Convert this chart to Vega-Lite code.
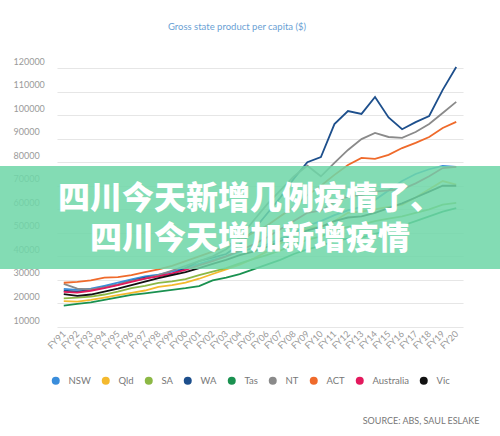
{
  "$schema": "https://vega.github.io/schema/vega-lite/v6.json",
  "width": 500,
  "height": 259,
  "autosize": {"type": "none"},
  "padding": {"left": 0, "right": 0, "top": 68, "bottom": 109},
  "background": "white",
  "config": {
    "view": {"stroke": null},
    "font": "Lato",
    "axisY": {
      "title": null,
      "tickCount": 11,
      "format": "d",
      "domain": false,
      "ticks": false,
      "tickSize": 0,
      "labelAlign": "left",
      "labelPadding": -13,
      "labelBaseline": "bottom",
      "labelOffset": -2,
      "labelFontSize": 9,
      "labelColor": "#9a9a9a",
      "labelBound": false,
      "labelFlush": false,
      "labelOverlap": false,
      "gridColor": "#e6e6e6",
      "gridWidth": 1.2
    }
  },
  "title": {
    "text": "Gross state product per capita ($)",
    "anchor": "middle",
    "frame": "group",
    "dx": -13,
    "offset": 26,
    "fontSize": 9.5,
    "fontWeight": "normal",
    "color": "#6a9fd4",
    "font": "Lato"
  },
  "layer": [
    {
      "data": {
        "values": [
          {"fy": "FY91", "NSW": 26200, "Qld": 21000, "SA": 22200, "WA": 25400, "Tas": 19100, "NT": 28300, "ACT": 28800, "Australia": 24900, "Vic": 24000},
          {"fy": "FY92", "NSW": 25800, "Qld": 20800, "SA": 22500, "WA": 25000, "Tas": 19800, "NT": 26300, "ACT": 29200, "Australia": 24600, "Vic": 23200},
          {"fy": "FY93", "NSW": 26300, "Qld": 21500, "SA": 22900, "WA": 25800, "Tas": 20500, "NT": 26000, "ACT": 29800, "Australia": 25400, "Vic": 23800},
          {"fy": "FY94", "NSW": 27500, "Qld": 22500, "SA": 23800, "WA": 26800, "Tas": 21500, "NT": 26800, "ACT": 31000, "Australia": 26500, "Vic": 25000},
          {"fy": "FY95", "NSW": 28800, "Qld": 23500, "SA": 25000, "WA": 28000, "Tas": 22600, "NT": 28000, "ACT": 31200, "Australia": 27800, "Vic": 26300},
          {"fy": "FY96", "NSW": 30200, "Qld": 24500, "SA": 26500, "WA": 29600, "Tas": 23600, "NT": 29500, "ACT": 32000, "Australia": 29200, "Vic": 27800},
          {"fy": "FY97", "NSW": 31500, "Qld": 25500, "SA": 27500, "WA": 31000, "Tas": 24300, "NT": 30500, "ACT": 33300, "Australia": 30500, "Vic": 29300},
          {"fy": "FY98", "NSW": 32200, "Qld": 27000, "SA": 28700, "WA": 31800, "Tas": 25000, "NT": 32000, "ACT": 34500, "Australia": 31500, "Vic": 30800},
          {"fy": "FY99", "NSW": 33500, "Qld": 27800, "SA": 29400, "WA": 32500, "Tas": 25800, "NT": 34000, "ACT": 36000, "Australia": 32800, "Vic": 32000},
          {"fy": "FY00", "NSW": 35000, "Qld": 28800, "SA": 30300, "WA": 35000, "Tas": 26500, "NT": 36000, "ACT": 38000, "Australia": 34300, "Vic": 33300},
          {"fy": "FY01", "NSW": 36800, "Qld": 30500, "SA": 32000, "WA": 38000, "Tas": 27400, "NT": 38000, "ACT": 40000, "Australia": 36200, "Vic": 35000},
          {"fy": "FY02", "NSW": 38500, "Qld": 32500, "SA": 33500, "WA": 39500, "Tas": 29800, "NT": 40000, "ACT": 42000, "Australia": 38000, "Vic": 36800},
          {"fy": "FY03", "NSW": 40000, "Qld": 34500, "SA": 35000, "WA": 41000, "Tas": 31000, "NT": 43000, "ACT": 44500, "Australia": 40000, "Vic": 38500},
          {"fy": "FY04", "NSW": 42000, "Qld": 36500, "SA": 37000, "WA": 45000, "Tas": 32500, "NT": 48000, "ACT": 47000, "Australia": 42500, "Vic": 40500},
          {"fy": "FY05", "NSW": 43500, "Qld": 39000, "SA": 38800, "WA": 51000, "Tas": 34500, "NT": 55000, "ACT": 50000, "Australia": 45000, "Vic": 42000},
          {"fy": "FY06", "NSW": 45000, "Qld": 42000, "SA": 40500, "WA": 58000, "Tas": 36500, "NT": 62000, "ACT": 53000, "Australia": 48000, "Vic": 44000},
          {"fy": "FY07", "NSW": 47500, "Qld": 45500, "SA": 42500, "WA": 65000, "Tas": 38500, "NT": 68000, "ACT": 57000, "Australia": 51500, "Vic": 46500},
          {"fy": "FY08", "NSW": 50000, "Qld": 49000, "SA": 45000, "WA": 73000, "Tas": 41000, "NT": 74000, "ACT": 61000, "Australia": 55000, "Vic": 49000},
          {"fy": "FY09", "NSW": 53000, "Qld": 52000, "SA": 47000, "WA": 80000, "Tas": 43000, "NT": 78500, "ACT": 66000, "Australia": 58500, "Vic": 51000},
          {"fy": "FY10", "NSW": 55000, "Qld": 52500, "SA": 48500, "WA": 82200, "Tas": 44500, "NT": 74000, "ACT": 70000, "Australia": 59500, "Vic": 52500},
          {"fy": "FY11", "NSW": 57500, "Qld": 55000, "SA": 51000, "WA": 96200, "Tas": 46500, "NT": 79700, "ACT": 74600, "Australia": 63000, "Vic": 55000},
          {"fy": "FY12", "NSW": 59500, "Qld": 58500, "SA": 52500, "WA": 101700, "Tas": 47500, "NT": 85200, "ACT": 78800, "Australia": 65500, "Vic": 56500},
          {"fy": "FY13", "NSW": 61000, "Qld": 59000, "SA": 53500, "WA": 100500, "Tas": 48000, "NT": 89800, "ACT": 81800, "Australia": 66000, "Vic": 57000},
          {"fy": "FY14", "NSW": 64000, "Qld": 60000, "SA": 55000, "WA": 107700, "Tas": 49500, "NT": 92400, "ACT": 81400, "Australia": 67500, "Vic": 58500},
          {"fy": "FY15", "NSW": 68000, "Qld": 61000, "SA": 56000, "WA": 99000, "Tas": 51000, "NT": 90700, "ACT": 83100, "Australia": 68000, "Vic": 60500},
          {"fy": "FY16", "NSW": 72000, "Qld": 62000, "SA": 57000, "WA": 94000, "Tas": 53000, "NT": 90300, "ACT": 86000, "Australia": 68500, "Vic": 62500},
          {"fy": "FY17", "NSW": 75000, "Qld": 65000, "SA": 58500, "WA": 97000, "Tas": 55000, "NT": 92800, "ACT": 88200, "Australia": 71000, "Vic": 65000},
          {"fy": "FY18", "NSW": 77000, "Qld": 68500, "SA": 60000, "WA": 99600, "Tas": 57000, "NT": 96200, "ACT": 90700, "Australia": 74000, "Vic": 67500},
          {"fy": "FY19", "NSW": 78400, "Qld": 72000, "SA": 62000, "WA": 110700, "Tas": 59000, "NT": 100900, "ACT": 94500, "Australia": 77500, "Vic": 70000},
          {"fy": "FY20", "NSW": 78000, "Qld": 70500, "SA": 62700, "WA": 120400, "Tas": 60500, "NT": 105600, "ACT": 97100, "Australia": 78000, "Vic": 70000}
        ]
      },
      "transform": [
        {"fold": ["NSW", "Qld", "SA", "WA", "Tas", "NT", "ACT", "Australia", "Vic"], "as": ["region", "gsp"]}
      ],
      "mark": {"type": "line", "strokeWidth": 1.8},
      "encoding": {
        "x": {
          "field": "fy",
          "type": "ordinal",
          "sort": null,
          "scale": {"type": "point", "range": [57, 463]},
          "axis": {
            "title": "SOURCE: ABS, SAUL ESLAKE",
            "titleX": 479,
            "titleY": 96,
            "titleAlign": "right",
            "titleBaseline": "alphabetic",
            "titleFontSize": 9,
            "titleFontWeight": "normal",
            "titleColor": "#777777",
            "titleFont": "Lato",
            "labelAngle": -45,
            "labelAlign": "right",
            "labelBaseline": "middle",
            "labelPadding": 5,
            "labelFontSize": 9,
            "labelColor": "#999999",
            "domain": false,
            "ticks": false,
            "tickSize": 0,
            "grid": false
          }
        },
        "y": {
          "field": "gsp",
          "type": "quantitative",
          "scale": {"domain": [10000, 120000], "nice": false, "zero": false}
        },
        "color": {
          "field": "region",
          "type": "nominal",
          "scale": {
            "domain": ["NSW", "Qld", "SA", "WA", "Tas", "NT", "ACT", "Australia", "Vic"],
            "range": ["#3a8ddb", "#f4b92e", "#8cb845", "#1d4f8c", "#1a9150", "#8a8a8a", "#ef6a2b", "#e3195d", "#111111"]
          },
          "legend": {
            "title": null,
            "orient": "none",
            "legendX": 51,
            "legendY": 308,
            "direction": "horizontal",
            "columns": 9,
            "gridAlign": "none",
            "symbolType": "circle",
            "symbolSize": 64,
            "symbolStrokeWidth": 0,
            "labelFontSize": 9.5,
            "labelColor": "#777777",
            "labelFont": "Lato",
            "labelOffset": 8,
            "columnPadding": 10,
            "encode": {
              "symbols": {
                "update": {
                  "fill": {"scale": "color", "field": "value"},
                  "fillOpacity": {"value": 1},
                  "strokeWidth": {"value": 0}
                }
              }
            }
          }
        }
      }
    },
    {
      "data": {"values": [{}]},
      "mark": {"type": "rect", "fill": "#6fd6a8", "opacity": 0.86, "clip": false},
      "encoding": {
        "x": {"value": 0},
        "x2": {"value": "width"},
        "y": {"datum": 78400, "type": "quantitative"},
        "y2": {"datum": 34650}
      }
    },
    {
      "data": {"values": [{}]},
      "mark": {
        "type": "text",
        "font": "Noto Sans CJK SC",
        "fontSize": 32,
        "fontWeight": 900,
        "color": "white",
        "align": "center",
        "baseline": "middle",
        "lineHeight": 40
      },
      "encoding": {
        "text": {"value": ["四川今天新增几例疫情了、", "四川今天增加新增疫情"]},
        "x": {"value": {"expr": "width/2"}},
        "y": {"datum": 64400, "type": "quantitative"}
      }
    }
  ]
}
